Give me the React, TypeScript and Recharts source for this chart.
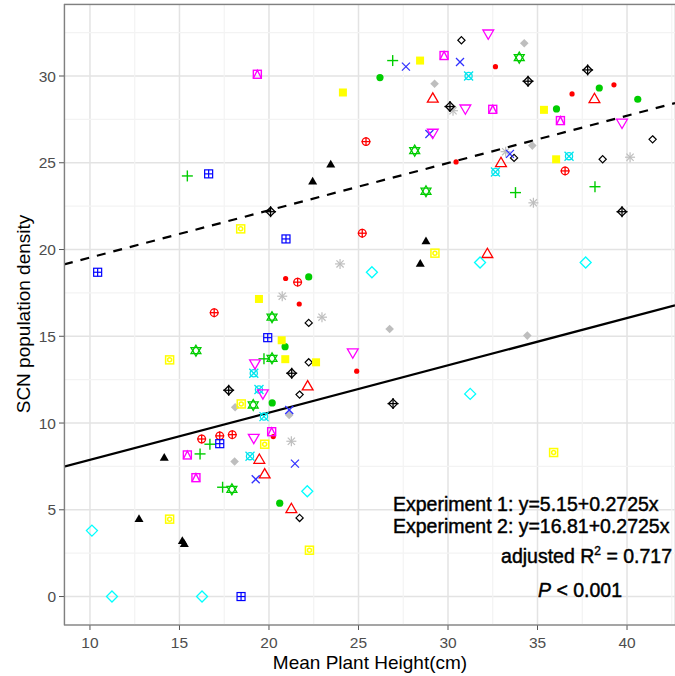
import React from 'react';
import { CartesianGrid, ReferenceLine, Scatter, ScatterChart, XAxis, YAxis } from 'recharts';

const xTicks = [10, 15, 20, 25, 30, 35, 40];
const yTicks = [0, 5, 10, 15, 20, 25, 30];
const xMinor = [12.5, 17.5, 22.5, 27.5, 32.5, 37.5, 42.5];
const yMinor = [2.5, 7.5, 12.5, 17.5, 22.5, 27.5, 32.5];
const xDomain = [8.55, 42.68];
const yDomain = [-1.64, 34.15];

// intercept, slope of the two fitted lines
const exp1Fit = [5.15, 0.2725];
const exp2Fit = [16.81, 0.2725];

// [plant height, SCN density] per group
const blackTriangle = [[23.45, 24.88], [22.44, 23.91], [28.77, 20.46], [28.45, 19.17], [14.15, 7.99], [12.74, 4.46], [15.16, 3.19], [15.27, 3.01]];
const blackDiamondPlus = [[20.09, 22.18], [30.11, 28.24], [34.47, 29.7], [37.8, 30.35], [39.72, 22.18], [21.27, 12.87], [17.75, 11.89], [26.93, 11.12]];
const blackDiamond = [[30.75, 32.06], [41.43, 26.35], [33.69, 25.28], [38.64, 25.2], [22.22, 15.77], [22.22, 13.5], [21.71, 11.64], [21.71, 4.53]];
const redTriangle = [[29.15, 28.68], [38.18, 28.66], [32.96, 24.97], [32.2, 19.73], [22.16, 12.1], [19.46, 7.87], [19.76, 7.03], [21.25, 5.03]];
const redCirclePlus = [[25.42, 26.22], [36.54, 24.53], [25.21, 20.94], [21.6, 18.12], [16.94, 16.36], [16.24, 9.08], [17.25, 9.26], [17.95, 9.33]];
const redDot = [[32.65, 30.54], [39.27, 29.49], [36.93, 28.97], [30.45, 25.05], [20.93, 18.33], [21.69, 16.86], [24.9, 12.99], [20.24, 9.22]];
const greenPlus = [[26.91, 30.89], [33.77, 23.28], [38.21, 23.62], [15.44, 24.24], [19.72, 13.7], [16.7, 8.78], [16.15, 8.22], [17.41, 6.3]];
const greenDot = [[26.2, 29.91], [38.45, 29.31], [40.6, 28.66], [36.06, 28.1], [22.22, 18.42], [20.9, 14.4], [20.18, 11.16], [20.6, 5.38]];
const greenStar = [[33.98, 31.06], [28.14, 25.7], [28.77, 23.36], [20.17, 16.1], [15.92, 14.17], [20.17, 13.73], [19.12, 11.04], [17.93, 6.18]];
const blueSquarePlus = [[16.63, 24.36], [20.95, 20.61], [10.43, 18.69], [19.93, 14.92], [17.25, 8.81], [18.44, 0]];
const blueCross = [[27.65, 30.54], [30.67, 30.81], [28.96, 26.66], [33.46, 25.51], [21.13, 10.75], [21.45, 7.66], [19.26, 6.76]];
const cyanDiamond = [[25.75, 18.69], [31.79, 19.25], [37.69, 19.25], [31.24, 11.68], [22.14, 6.07], [10.11, 3.8], [11.23, 0], [16.26, 0]];
const cyanCircleCross = [[31.15, 30.0], [32.65, 24.47], [36.76, 25.38], [19.15, 12.87], [19.44, 11.93], [19.72, 10.37], [18.94, 8.09]];
const magentaTriangle = [[32.25, 32.46], [30.97, 28.14], [39.72, 27.32], [29.15, 26.74], [19.22, 13.45], [24.68, 14.08], [19.66, 11.72], [19.15, 9.16]];
const magentaSquare = [[19.35, 30.1], [29.78, 31.18], [32.5, 28.08], [36.28, 27.43], [20.15, 9.5], [15.44, 8.16], [15.92, 6.85]];
const yellowSquare = [[24.13, 29.05], [28.44, 30.89], [35.36, 28.05], [36.04, 25.2], [19.44, 17.15], [20.71, 14.77], [20.91, 13.68], [22.63, 13.5]];
const yellowCircle = [[18.42, 21.19], [14.45, 13.64], [18.45, 11.1], [19.76, 8.78], [14.45, 4.46], [22.26, 2.67], [29.27, 19.79], [35.9, 8.3]];
const greyDiamond = [[34.26, 31.89], [29.25, 29.55], [34.71, 25.99], [26.74, 15.42], [34.43, 15.04], [18.11, 10.91], [21.13, 10.47], [18.08, 7.78]];
const greyAsterisk = [[30.28, 28.0], [33.22, 25.64], [40.17, 25.32], [34.77, 22.69], [23.97, 19.17], [20.74, 17.31], [22.96, 16.1], [21.25, 8.95]];

const font = '"Liberation Sans", Arial, sans-serif';

type Draw = (x: number, y: number) => React.ReactNode;
const mark = (draw: Draw) => (p: any) => <g>{draw(p.cx, p.cy)}</g>;
const tri = (x: number, y: number, r: number, dir: number) =>
  `${x},${y - r * dir} ${x - r * 0.9},${y + r * 0.55 * dir} ${x + r * 0.9},${y + r * 0.55 * dir}`;
const dia = (x: number, y: number, r: number) => `${x},${y - r} ${x + r},${y} ${x},${y + r} ${x - r},${y}`;

const groups: { pts: number[][]; shape: any }[] = [
  { pts: greyDiamond, shape: mark((x, y) => <polygon points={dia(x, y, 4.3)} fill="#bebebe" />) },
  {
    pts: greyAsterisk,
    shape: mark((x, y) => (
      <g stroke="#bebebe" strokeWidth={1.2}>
        <line x1={x - 5} y1={y} x2={x + 5} y2={y} />
        <line x1={x} y1={y - 5} x2={x} y2={y + 5} />
        <line x1={x - 3.6} y1={y - 3.6} x2={x + 3.6} y2={y + 3.6} />
        <line x1={x - 3.6} y1={y + 3.6} x2={x + 3.6} y2={y - 3.6} />
      </g>
    )),
  },
  { pts: blackTriangle, shape: mark((x, y) => <polygon points={tri(x, y, 5, 1)} fill="#000" />) },
  {
    pts: blackDiamondPlus,
    shape: mark((x, y) => (
      <g stroke="#000" strokeWidth={1.3} fill="none">
        <polygon points={dia(x, y, 4.5)} />
        <line x1={x - 5.5} y1={y} x2={x + 5.5} y2={y} />
        <line x1={x} y1={y - 5.5} x2={x} y2={y + 5.5} />
      </g>
    )),
  },
  { pts: blackDiamond, shape: mark((x, y) => <polygon points={dia(x, y, 3.6)} fill="none" stroke="#000" strokeWidth={1.2} />) },
  { pts: redTriangle, shape: mark((x, y) => <polygon points={tri(x, y, 6, 1)} fill="none" stroke="#ff0000" strokeWidth={1.3} />) },
  {
    pts: redCirclePlus,
    shape: mark((x, y) => (
      <g stroke="#ff0000" strokeWidth={1.3} fill="none">
        <circle cx={x} cy={y} r={3.8} />
        <line x1={x - 4.5} y1={y} x2={x + 4.5} y2={y} />
        <line x1={x} y1={y - 4.5} x2={x} y2={y + 4.5} />
      </g>
    )),
  },
  { pts: redDot, shape: mark((x, y) => <circle cx={x} cy={y} r={2.6} fill="#ff0000" />) },
  {
    pts: greenPlus,
    shape: mark((x, y) => (
      <g stroke="#00cd00" strokeWidth={1.4}>
        <line x1={x - 5.5} y1={y} x2={x + 5.5} y2={y} />
        <line x1={x} y1={y - 5.5} x2={x} y2={y + 5.5} />
      </g>
    )),
  },
  { pts: greenDot, shape: mark((x, y) => <circle cx={x} cy={y} r={3.6} fill="#00cd00" />) },
  {
    pts: greenStar,
    shape: mark((x, y) => (
      <g stroke="#00cd00" strokeWidth={1.3} fill="none">
        <polygon points={tri(x, y, 5.5, 1)} />
        <polygon points={tri(x, y, 5.5, -1)} />
      </g>
    )),
  },
  {
    pts: blueSquarePlus,
    shape: mark((x, y) => (
      <g stroke="#0000ff" strokeWidth={1.2} fill="none">
        <rect x={x - 4} y={y - 4} width={8} height={8} />
        <line x1={x - 4} y1={y} x2={x + 4} y2={y} />
        <line x1={x} y1={y - 4} x2={x} y2={y + 4} />
      </g>
    )),
  },
  {
    pts: blueCross,
    shape: mark((x, y) => (
      <g stroke="#3030ff" strokeWidth={1.3}>
        <line x1={x - 4} y1={y - 4} x2={x + 4} y2={y + 4} />
        <line x1={x - 4} y1={y + 4} x2={x + 4} y2={y - 4} />
      </g>
    )),
  },
  { pts: cyanDiamond, shape: mark((x, y) => <polygon points={dia(x, y, 5.5)} fill="none" stroke="#00ffff" strokeWidth={1.3} />) },
  {
    pts: cyanCircleCross,
    shape: mark((x, y) => (
      <g stroke="#00e5ee" strokeWidth={1.3} fill="none">
        <circle cx={x} cy={y} r={3.6} />
        <line x1={x - 4.5} y1={y - 4.5} x2={x + 4.5} y2={y + 4.5} />
        <line x1={x - 4.5} y1={y + 4.5} x2={x + 4.5} y2={y - 4.5} />
      </g>
    )),
  },
  { pts: magentaTriangle, shape: mark((x, y) => <polygon points={tri(x, y, 6, -1)} fill="none" stroke="#ff00ff" strokeWidth={1.3} />) },
  {
    pts: magentaSquare,
    shape: mark((x, y) => (
      <g stroke="#ff00ff" strokeWidth={1.4} fill="none">
        <rect x={x - 4} y={y - 4} width={8} height={8} />
        <polyline points={`${x - 4},${y + 4} ${x},${y - 4} ${x + 4},${y + 4}`} />
      </g>
    )),
  },
  { pts: yellowSquare, shape: mark((x, y) => <rect x={x - 4} y={y - 4} width={8} height={8} fill="#ffff00" />) },
  {
    pts: yellowCircle,
    shape: mark((x, y) => (
      <g stroke="#ffff00" strokeWidth={1.5} fill="none">
        <rect x={x - 4} y={y - 4} width={8} height={8} />
        <circle cx={x} cy={y} r={2} />
      </g>
    )),
  },
];

const tickStyle = { fill: '#4d4d4d', fontSize: 15.5, fontFamily: font };
const lineEnds = (fit: number[]) => [
  { x: xDomain[0], y: fit[0] + fit[1] * xDomain[0] },
  { x: xDomain[1], y: fit[0] + fit[1] * xDomain[1] },
];

export default function App() {
  return (
    <div style={{ position: 'absolute', left: 0, top: 0, width: 675, height: 676, background: '#fff' }}>
      <ScatterChart width={675} height={676} margin={{ top: 4, right: 0, bottom: 0, left: 20 }}>
        {xMinor.map((v) => (
          <ReferenceLine key={'mx' + v} x={v} stroke="#f3f3f3" strokeWidth={1.2} ifOverflow="hidden" />
        ))}
        {yMinor.map((v) => (
          <ReferenceLine key={'my' + v} y={v} stroke="#f3f3f3" strokeWidth={1.2} ifOverflow="hidden" />
        ))}
        <CartesianGrid stroke="#e3e3e3" strokeWidth={1.5} />
        <XAxis
          type="number"
          dataKey="x"
          domain={xDomain}
          ticks={xTicks}
          allowDataOverflow
          height={51}
          tickSize={5}
          tickMargin={7}
          tick={tickStyle}
          axisLine={false}
          tickLine={{ stroke: '#555' }}
        />
        <YAxis
          type="number"
          dataKey="y"
          domain={yDomain}
          ticks={yTicks}
          allowDataOverflow
          width={44}
          tickSize={5}
          tickMargin={3}
          tick={tickStyle}
          axisLine={false}
          tickLine={{ stroke: '#555' }}
        />
        <ReferenceLine segment={lineEnds(exp1Fit)} stroke="#000" strokeWidth={2.2} ifOverflow="hidden" />
        <ReferenceLine segment={lineEnds(exp2Fit)} stroke="#000" strokeWidth={2.2} strokeDasharray="9 8" ifOverflow="hidden" />
        {groups.map((g, i) => (
          <Scatter
            key={i}
            data={g.pts.map(([x, y]) => ({ x, y }))}
            shape={g.shape}
            isAnimationActive={false}
          />
        ))}
      </ScatterChart>
      <svg width={675} height={676} style={{ position: 'absolute', left: 0, top: 0, pointerEvents: 'none' }}>
        <rect x={64.5} y={4.5} width={640} height={620.5} fill="none" stroke="#808080" strokeWidth={1.3} />
        <text x={370} y={669} textAnchor="middle" fontSize={19} fontFamily={font} fill="#000">
          Mean Plant Height(cm)
        </text>
        <text x={30} y={314} textAnchor="middle" fontSize={19} fontFamily={font} fill="#000" transform="rotate(-90 30 314)">
          SCN population density
        </text>
        <g fontFamily={font} fontSize={19.5} fill="#000" stroke="#000" strokeWidth={0.45}>
          <text x={393} y={511}>Experiment 1: y=5.15+0.2725x</text>
          <text x={393} y={533}>Experiment 2: y=16.81+0.2725x</text>
          <text x={672} y={563} textAnchor="end">
            adjusted R
            <tspan dy={-8} fontSize={12}>2</tspan>
            <tspan dy={8}> = 0.717</tspan>
          </text>
          <text x={538} y={597}>
            <tspan fontStyle="italic">P</tspan> &lt; 0.001
          </text>
        </g>
      </svg>
    </div>
  );
}
